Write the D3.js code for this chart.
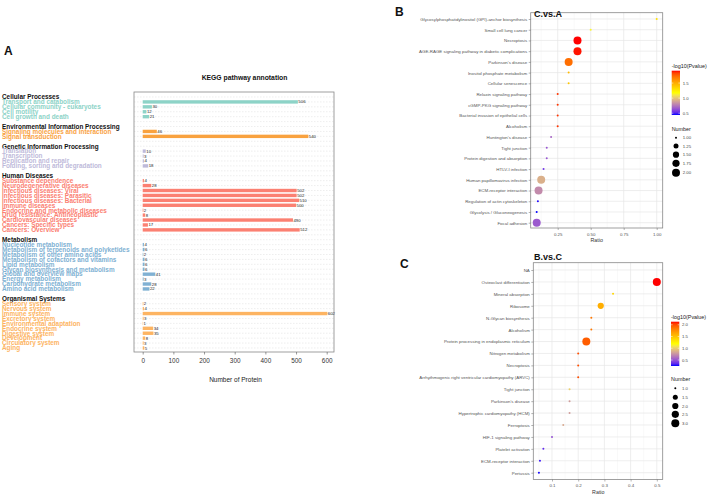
<!DOCTYPE html>
<html><head><meta charset="utf-8">
<script src="https://cdn.jsdelivr.net/npm/d3@7"></script>
<style>body{margin:0;background:#fff}svg text{font-family:"Liberation Sans",Arial,Helvetica,sans-serif;-webkit-font-smoothing:antialiased}</style>
</head><body>
<svg id="c" width="709" height="494"></svg>
<script>
// ---------------- DATA ----------------
// Panel A: KEGG pathway annotation
const groups = ["Cellular Processes","Environmental Information Processing","Genetic Information Processing","Human Diseases","Metabolism","Organismal Systems"];
const cpPathways = ["Transport and catabolism","Cellular community - eukaryotes","Cell motility","Cell growth and death"];
const cpCounts = [506,30,12,21];
const eipPathways = ["Signaling molecules and interaction","Signal transduction"];
const eipCounts = [46,540];
const gipPathways = ["Translation","Transcription","Replication and repair","Folding, sorting and degradation"];
const gipCounts = [10,3,4,18];
const hdPathways = ["Substance dependence","Neurodegenerative diseases","Infectious diseases: Viral","Infectious diseases: Parasitic","Infectious diseases: Bacterial","Immune diseases","Endocrine and metabolic diseases","Drug resistance: Antineoplastic","Cardiovascular diseases","Cancers: Specific types","Cancers: Overview"];
const hdCounts = [4,28,502,502,510,500,2,8,490,17,512];
const metPathways = ["Nucleotide metabolism","Metabolism of terpenoids and polyketides","Metabolism of other amino acids","Metabolism of cofactors and vitamins","Lipid metabolism","Glycan biosynthesis and metabolism","Global and overview maps","Energy metabolism","Carbohydrate metabolism","Amino acid metabolism"];
const metCounts = [4,6,2,6,6,6,41,3,28,22];
const osPathways = ["Sensory system","Nervous system","Immune system","Excretory system","Environmental adaptation","Endocrine system","Digestive system","Development","Circulatory system","Aging"];
const osCounts = [2,4,602,3,1,34,35,8,3,5];
const axisTicksA = [0,100,200,300,400,500,600];

// Panel B: C.vs.A
const bPathways = ["Glycosylphosphatidylinositol (GPI)-anchor biosynthesis","Small cell lung cancer","Necroptosis","AGE-RAGE signaling pathway in diabetic complications","Parkinson's disease","Inositol phosphate metabolism","Cellular senescence","Relaxin signaling pathway","cGMP-PKG signaling pathway","Bacterial invasion of epithelial cells","Alcoholism","Huntington's disease","Tight junction","Protein digestion and absorption","HTLV-I infection","Human papillomavirus infection","ECM-receptor interaction","Regulation of actin cytoskeleton","Glycolysis / Gluconeogenesis","Focal adhesion"];
const bRatio = [1.0,0.5,0.4,0.4,0.333,0.333,0.333,0.25,0.25,0.25,0.25,0.2,0.167,0.167,0.143,0.125,0.105,0.1,0.091,0.091];
const bLogP = [1.3,1.15,1.91,1.9,1.72,1.45,1.4,1.86,1.86,1.86,1.86,0.7,0.65,0.65,0.55,0.93,0.81,0.45,0.44,0.66];
const bNumber = [1,1,2,2,2,1,1,1,1,1,1,1,1,1,1,2,2,1,1,2];
const bRatioTicks = [0.25,0.5,0.75,1.0];
const bColorTicks = [0.5,1.0,1.5];
const bSizeTicks = [1.00,1.25,1.50,1.75,2.00];

// Panel C: B.vs.C
const cPathways = ["NA","Osteoclast differentiation","Mineral absorption","Ribosome","N-Glycan biosynthesis","Alcoholism","Protein processing in endoplasmic reticulum","Nitrogen metabolism","Necroptosis","Arrhythmogenic right ventricular cardiomyopathy (ARVC)","Tight junction","Parkinson's disease","Hypertrophic cardiomyopathy (HCM)","Ferroptosis","HIF-1 signaling pathway","Platelet activation","ECM-receptor interaction","Pertussis"];
const cRatio = [null,0.5,0.333,0.286,0.25,0.25,0.231,0.2,0.2,0.2,0.167,0.167,0.167,0.143,0.1,0.067,0.054,0.05];
const cLogP = [null,2.13,1.4,1.6,1.85,1.85,1.95,2.0,2.0,2.0,1.0,0.8,0.8,0.85,0.5,0.35,0.28,0.25];
const cNumber = [null,3,1,2,1,1,3,1,1,1,1,1,1,1,1,1,1,1];
const cRatioTicks = [0.1,0.2,0.3,0.4,0.5];
const cColorTicks = [0.5,1.0,1.5,2.0];
const cSizeTicks = [1.0,1.5,2.0,2.5,3.0];

// ---------------- STYLE ----------------
const groupColors = ["#8dd3c7","#f9a23f","#bebada","#fb8072","#80b1d3","#fdb462"];
const FF = "'Liberation Sans',Arial,sans-serif";
const svg = d3.select("#c");

// ---------------- PANEL A ----------------
const pathwaysA = [cpPathways,eipPathways,gipPathways,hdPathways,metPathways,osPathways];
const countsA = [cpCounts,eipCounts,gipCounts,hdCounts,metCounts,osCounts];
const rows = [];
groups.forEach((g,i)=>{
  if(i>0) rows.push({id:"b"+i,type:"blank"});
  rows.push({id:"h"+i,type:"header",name:g,gi:i});
  pathwaysA[i].forEach((p,j)=>rows.push({id:"r"+i+"_"+j,type:"item",name:p,gi:i,value:countsA[i][j]}));
});
const yA = d3.scalePoint().domain(rows.map(r=>r.id)).range([97,348]);
const xA = d3.scaleLinear().domain([0,600]).range([142.7,326.7]);
const frameA = {x0:134,x1:334,y0:92,y1:352};
const gA = svg.append("g");
gA.selectAll("line.grid").data(rows).join("line").attr("class","grid")
  .attr("x1",frameA.x0).attr("x2",frameA.x1)
  .attr("y1",d=>yA(d.id)).attr("y2",d=>yA(d.id))
  .attr("stroke","#e3e3e3").attr("stroke-width",0.6).attr("stroke-dasharray","1.5,1.5");
const bh = 3.4;
const items = rows.filter(r=>r.type==="item");
gA.selectAll("rect.bar").data(items).join("rect").attr("class","bar")
  .attr("x",xA(0)).attr("y",d=>yA(d.id)-bh/2)
  .attr("width",d=>xA(d.value)-xA(0)).attr("height",bh)
  .attr("fill",d=>groupColors[d.gi]);
gA.selectAll("text.val").data(items).join("text").attr("class","val")
  .attr("x",d=>xA(d.value)+0.5).attr("y",d=>yA(d.id)).attr("dy","0.35em")
  .attr("font-size",4.3).attr("fill","#222").text(d=>d.value);
gA.append("rect").attr("x",frameA.x0).attr("y",frameA.y0).attr("width",frameA.x1-frameA.x0).attr("height",frameA.y1-frameA.y0)
  .attr("fill","none").attr("stroke","#888").attr("stroke-width",0.8);
const axA = gA.append("g").attr("transform",`translate(0,${frameA.y1})`)
  .call(d3.axisBottom(xA).tickValues(axisTicksA).tickSize(2.5).tickPadding(3.5).tickFormat(d3.format("d")));
axA.select(".domain").remove();
axA.selectAll("line").attr("stroke","#555").attr("stroke-width",0.6);
axA.selectAll("text").attr("font-size",6.4).attr("fill","#333").attr("font-family",FF);
gA.append("text").attr("x",235.5).attr("y",381.5).attr("text-anchor","middle").attr("font-size",6.5).attr("fill","#222").text("Number of Protein");
gA.selectAll("text.lab").data(rows.filter(r=>r.type!=="blank")).join("text").attr("class","lab")
  .attr("x",2).attr("y",d=>yA(d.id)).attr("dy","0.36em")
  .attr("font-size",6.4).attr("font-weight","bold")
  .attr("fill",d=>d.type==="header"?"#111":groupColors[d.gi]).text(d=>d.name);
gA.append("text").attr("x",244.5).attr("y",79.5).attr("text-anchor","middle").attr("font-size",6.8).attr("font-weight","bold").attr("fill","#111").text("KEGG pathway annotation");
gA.append("text").attr("x",4).attr("y",55).attr("font-size",12).attr("font-weight","bold").attr("fill","#111").text("A");

// ---------------- DOT PANELS ----------------
function dotPanel(cfg){
  const g = svg.append("g");
  const x = d3.scaleLinear().domain(cfg.xDomain).range([cfg.x0,cfg.x1]);
  const y = d3.scalePoint().domain(cfg.names).range([cfg.yFirst,cfg.yLast]);
  const cmin=cfg.cDomain[0], cmax=cfg.cDomain[1];
  const color = d3.scaleLinear().domain([cmin,(cmin+cmax)/2,cmax]).range(["blue","yellow","red"]).interpolate(d3.interpolateLab);
  const smin=cfg.sDomain[0], smax=cfg.sDomain[1];
  const rad = v=>1.0+3.0*Math.sqrt((v-smin)/(smax-smin));
  const step = cfg.ticks[1]-cfg.ticks[0];
  const minor = [];
  for(let v=cfg.ticks[0]-step/2; v<cfg.xDomain[1]; v+=step){ if(v>cfg.xDomain[0]) minor.push(v); }
  g.selectAll("line.mn").data(minor).join("line").attr("class","mn").attr("x1",d=>x(d)).attr("x2",d=>x(d)).attr("y1",cfg.y0).attr("y2",cfg.y1).attr("stroke","#f2f2f2").attr("stroke-width",0.5);
  g.selectAll("line.mj").data(cfg.ticks).join("line").attr("class","mj").attr("x1",d=>x(d)).attr("x2",d=>x(d)).attr("y1",cfg.y0).attr("y2",cfg.y1).attr("stroke","#e6e6e6").attr("stroke-width",0.7);
  g.selectAll("line.hy").data(cfg.names).join("line").attr("class","hy").attr("x1",cfg.x0).attr("x2",cfg.x1).attr("y1",d=>y(d)).attr("y2",d=>y(d)).attr("stroke","#e6e6e6").attr("stroke-width",0.7);
  const pts = cfg.names.map((n,i)=>({n,r:cfg.ratio[i],c:cfg.logp[i],s:cfg.num[i]})).filter(d=>d.r!=null);
  g.selectAll("circle.pt").data(pts).join("circle").attr("class","pt").attr("cx",d=>x(d.r)).attr("cy",d=>y(d.n)).attr("r",d=>rad(d.s)).attr("fill",d=>color(d.c));
  g.append("rect").attr("x",cfg.x0).attr("y",cfg.y0).attr("width",cfg.x1-cfg.x0).attr("height",cfg.y1-cfg.y0).attr("fill","none").attr("stroke","#888").attr("stroke-width",0.8);
  const ax = g.append("g").attr("transform",`translate(0,${cfg.y1})`).call(d3.axisBottom(x).tickValues(cfg.ticks).tickSize(2).tickPadding(2.5).tickFormat(d3.format(cfg.tickFmt)));
  ax.select(".domain").remove();
  ax.selectAll("line").attr("stroke","#666").attr("stroke-width",0.5);
  ax.selectAll("text").attr("font-size",4.4).attr("fill","#555").attr("font-family",FF);
  const ay = g.append("g").attr("transform",`translate(${cfg.x0},0)`).call(d3.axisLeft(y).tickSize(2).tickPadding(1.5));
  ay.select(".domain").remove();
  ay.selectAll("line").attr("stroke","#666").attr("stroke-width",0.5);
  ay.selectAll("text").attr("font-size",4.4).attr("fill","#555").attr("font-family",FF);
  g.append("text").attr("x",cfg.ratioX).attr("y",cfg.y1+14).attr("text-anchor","middle").attr("font-size",5.3).attr("fill","#333").text("Ratio");
  g.append("text").attr("x",cfg.titleX).attr("y",cfg.titleY).attr("font-size",9).attr("font-weight","bold").attr("fill","#111").text(cfg.title);
  g.append("text").attr("x",cfg.letterX).attr("y",cfg.letterY).attr("font-size",12).attr("font-weight","bold").attr("fill","#111").text(cfg.letter);
  const L = cfg.leg;
  g.append("text").attr("x",L.x).attr("y",L.titleY).attr("font-size",5.4).attr("fill","#222").text("-log10(Pvalue)");
  const gid = "grad"+cfg.letter;
  const grad = svg.append("defs").append("linearGradient").attr("id",gid).attr("x1",0).attr("y1",1).attr("x2",0).attr("y2",0);
  d3.range(0,1.0001,0.05).forEach(t=>grad.append("stop").attr("offset",t).attr("stop-color",color(cmin+t*(cmax-cmin))));
  g.append("rect").attr("x",L.x).attr("y",L.y0).attr("width",8.3).attr("height",L.y1-L.y0).attr("fill",`url(#${gid})`);
  const cy = d3.scaleLinear().domain([cmin,cmax]).range([L.y1,L.y0]);
  cfg.cTicks.forEach(v=>{
    g.append("line").attr("x1",L.x).attr("x2",L.x+1.6).attr("y1",cy(v)).attr("y2",cy(v)).attr("stroke","#fff").attr("stroke-width",0.5);
    g.append("line").attr("x1",L.x+6.7).attr("x2",L.x+8.3).attr("y1",cy(v)).attr("y2",cy(v)).attr("stroke","#fff").attr("stroke-width",0.5);
    g.append("text").attr("x",L.x+11).attr("y",cy(v)).attr("dy","0.35em").attr("font-size",4.3).attr("fill","#444").text(d3.format(".1f")(v));
  });
  g.append("text").attr("x",L.x).attr("y",L.sTitleY).attr("font-size",5.4).attr("fill","#222").text("Number");
  cfg.sTicks.forEach((v,i)=>{
    g.append("circle").attr("cx",L.x+4.3).attr("cy",L.sY[i]).attr("r",rad(v)).attr("fill","#000");
    g.append("text").attr("x",L.x+11).attr("y",L.sY[i]).attr("dy","0.35em").attr("font-size",4.3).attr("fill","#444").text(d3.format(cfg.sFmt)(v));
  });
}

dotPanel({letter:"B",letterX:395,letterY:16,title:"C.vs.A",titleX:534,titleY:17,ratioX:596.7,names:bPathways,ratio:bRatio,logp:bLogP,num:bNumber,
  xDomain:[0.0455,1.0455],x0:530.7,x1:662.7,y0:12.7,y1:228,yFirst:19,yLast:222.7,ticks:bRatioTicks,tickFmt:".2f",
  cDomain:[0.44,1.91],sDomain:[1,2],cTicks:bColorTicks,sTicks:bSizeTicks,sFmt:".2f",
  leg:{x:671.7,titleY:67.5,y0:70.7,y1:115,sTitleY:131,sY:[137.7,146,154.7,163.3,172.7]}});
dotPanel({letter:"C",letterX:400,letterY:268,title:"B.vs.C",titleX:534,titleY:260,ratioX:598.3,names:cPathways,ratio:cRatio,logp:cLogP,num:cNumber,
  xDomain:[0.0286,0.5225],x0:533.3,x1:662.7,y0:262.7,y1:479.5,yFirst:270,yLast:472.7,ticks:cRatioTicks,tickFmt:".1f",
  cDomain:[0.245,2.13],sDomain:[1,3],cTicks:cColorTicks,sTicks:cSizeTicks,sFmt:".1f",
  leg:{x:671,titleY:318.5,y0:321.7,y1:366,sTitleY:381,sY:[388.3,397.3,406,414.3,423.3]}});
</script>
</body></html>
